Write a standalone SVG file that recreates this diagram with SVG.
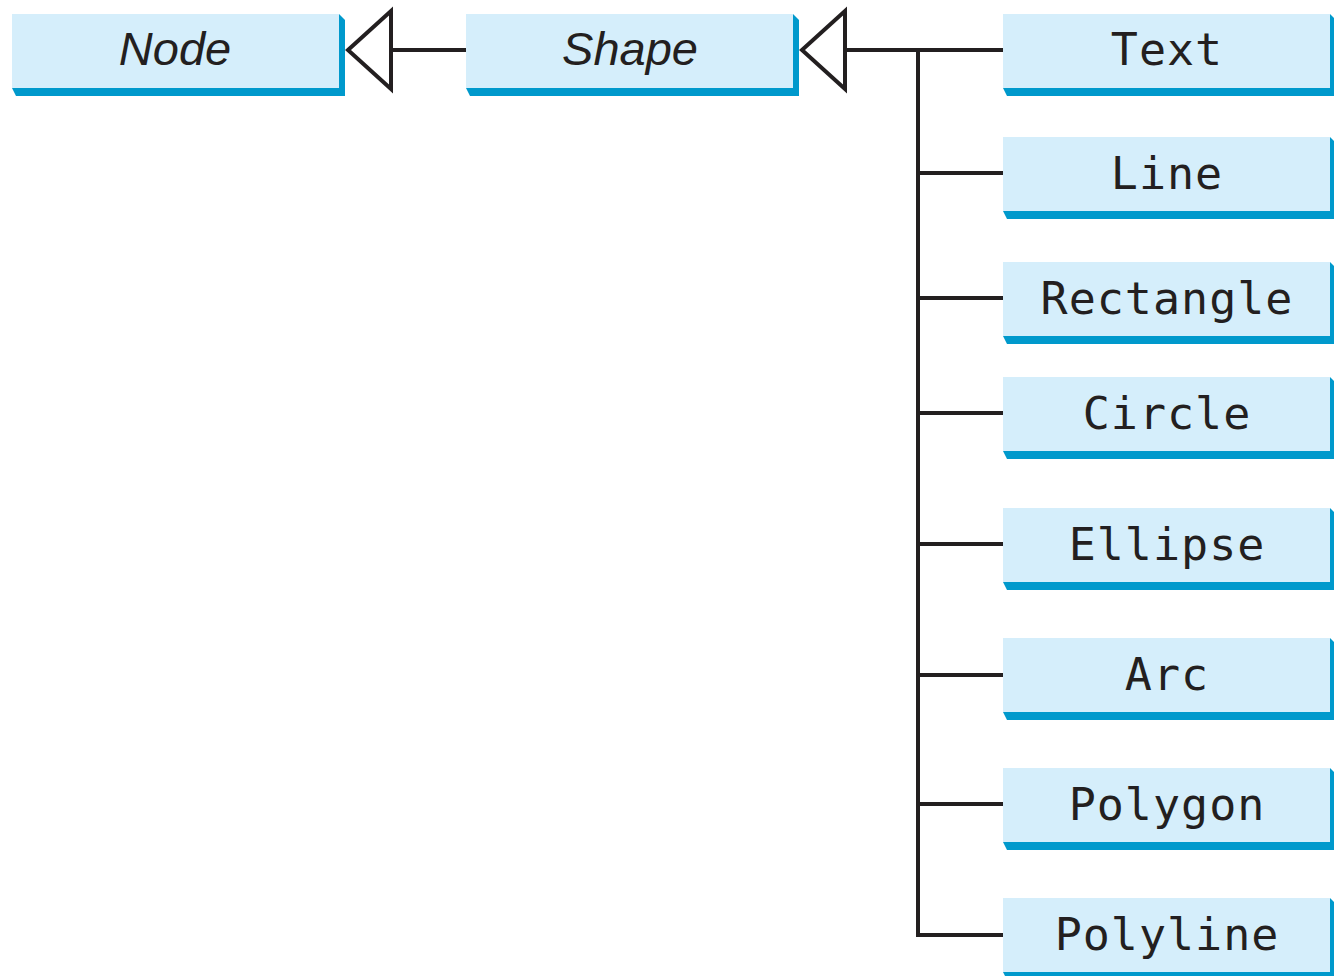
<svg xmlns="http://www.w3.org/2000/svg" xmlns:xlink="http://www.w3.org/1999/xlink" width="1334" height="976" viewBox="0 0 1334 976">
<style>
.light{fill:#d5eefb}
.shadow{fill:#0099cc}
.mono{font-family:"DejaVu Sans Mono","Liberation Mono",monospace;font-size:45px;fill:#231f20;text-anchor:middle;letter-spacing:1px}
.ital{font-family:"Liberation Sans","DejaVu Sans",sans-serif;font-style:italic;font-size:47px;fill:#231f20;text-anchor:middle}
.conn{fill:none;stroke:#231f20;stroke-width:4}
.tri{fill:#fff;stroke:#231f20;stroke-width:4;stroke-linejoin:miter}
</style>
<defs>
<g id="box">
<polygon class="shadow" points="327,0 333,6 333,82 4,82 0,74"/>
<rect class="light" x="0" y="0" width="327" height="74"/>
</g>
</defs>
<rect width="1334" height="976" fill="#fff"/>
<g id="connectors">
<line class="conn" x1="391" y1="50" x2="466" y2="50"/>
<polygon class="tri" points="348,50 391,11 391,89"/>
<line class="conn" x1="845" y1="50" x2="1003" y2="50"/>
<polygon class="tri" points="802,50 845,11 845,89"/>
<polyline class="conn" points="918,50 918,935 1003,935"/>
<line class="conn" x1="918" y1="173" x2="1003" y2="173"/>
<line class="conn" x1="918" y1="298" x2="1003" y2="298"/>
<line class="conn" x1="918" y1="413" x2="1003" y2="413"/>
<line class="conn" x1="918" y1="544" x2="1003" y2="544"/>
<line class="conn" x1="918" y1="675" x2="1003" y2="675"/>
<line class="conn" x1="918" y1="804" x2="1003" y2="804"/>
</g>
<g id="node-Node"><use xlink:href="#box" x="12" y="14"/><text class="ital" x="175" y="65">Node</text></g>
<g id="node-Shape"><use xlink:href="#box" x="466" y="14"/><text class="ital" x="630" y="65">Shape</text></g>
<g id="node-Text"><use xlink:href="#box" x="1003" y="14"/><text class="mono" x="1167" y="65">Text</text></g>
<g id="node-Line"><use xlink:href="#box" x="1003" y="137"/><text class="mono" x="1167" y="189">Line</text></g>
<g id="node-Rectangle"><use xlink:href="#box" x="1003" y="262"/><text class="mono" x="1167" y="314">Rectangle</text></g>
<g id="node-Circle"><use xlink:href="#box" x="1003" y="377"/><text class="mono" x="1167" y="429">Circle</text></g>
<g id="node-Ellipse"><use xlink:href="#box" x="1003" y="508"/><text class="mono" x="1167" y="560">Ellipse</text></g>
<g id="node-Arc"><use xlink:href="#box" x="1003" y="638"/><text class="mono" x="1167" y="690">Arc</text></g>
<g id="node-Polygon"><use xlink:href="#box" x="1003" y="768"/><text class="mono" x="1167" y="820">Polygon</text></g>
<g id="node-Polyline"><use xlink:href="#box" x="1003" y="898"/><text class="mono" x="1167" y="950">Polyline</text></g>
</svg>
